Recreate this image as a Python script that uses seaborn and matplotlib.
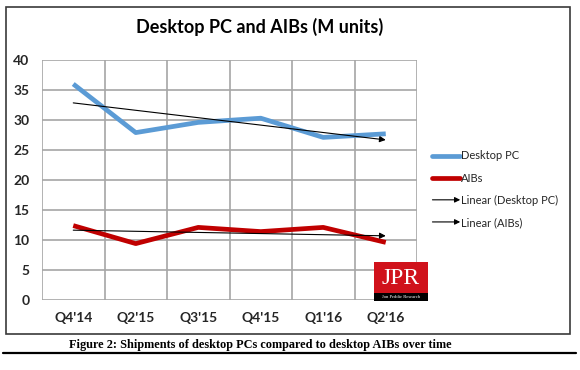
import numpy as np
import pandas as pd
import matplotlib
matplotlib.use("Agg")
import matplotlib.pyplot as plt
import seaborn as sns
from matplotlib.lines import Line2D
from matplotlib.patches import Rectangle, FancyArrowPatch
from matplotlib.legend_handler import HandlerBase

# data
quarters = ["Q4'14", "Q2'15", "Q3'15", "Q4'15", "Q1'16", "Q2'16"]
desktop_pc = [36.0, 27.9, 29.6, 30.3, 27.1, 27.7]
aibs = [12.4, 9.4, 12.1, 11.4, 12.1, 9.6]
y_ticks = [0, 5, 10, 15, 20, 25, 30, 35, 40]

blue = "#5B9BD5"
red = "#C00000"

sns.set_theme(style="white")
plt.rcParams["font.family"] = ["Lato", "DejaVu Sans"]

pos = np.arange(len(quarters))
df = pd.DataFrame({"pos": pos, "Desktop PC": desktop_pc, "AIBs": aibs})

fig = plt.figure(figsize=(5.8, 3.7), dpi=100)
ax = fig.add_axes([42 / 580, 1 - 300 / 370, 375 / 580, 240 / 370])

sns.lineplot(data=df, x="pos", y="Desktop PC", ax=ax, color=blue, linewidth=3.4,
             solid_capstyle="butt")
sns.lineplot(data=df, x="pos", y="AIBs", ax=ax, color=red, linewidth=3.4,
             solid_capstyle="butt")

# linear trendlines with arrow heads
for vals in (desktop_pc, aibs):
    k, b = np.polyfit(pos, vals, 1)
    ax.annotate("", xy=(pos[-1], k * pos[-1] + b), xytext=(pos[0], k * pos[0] + b),
                arrowprops=dict(arrowstyle="-|>", color="black", lw=0.8,
                                mutation_scale=9, shrinkA=0, shrinkB=0))

ax.set_xlim(-0.5, len(quarters) - 0.5)
ax.set_ylim(0, 40)
ax.set_yticks(y_ticks)
ax.set_xticks(pos)
ax.set_xticklabels(quarters)
ax.set_xticks(np.arange(-0.5, len(quarters), 1), minor=True)
ax.grid(False)
ax.grid(axis="y", which="major", color="#a6a6a6", lw=1.2)
ax.grid(axis="x", which="minor", color="#a6a6a6", lw=1.2)
for s in ax.spines.values():
    s.set_visible(False)
ax.tick_params(axis="both", which="both", length=0)
ax.tick_params(axis="y", pad=9, labelsize=10)
ax.tick_params(axis="x", pad=9, labelsize=10)
for lab in ax.get_xticklabels() + ax.get_yticklabels():
    lab.set_fontweight("bold")
    lab.set_color("#262626")
ax.set_xlabel("")
ax.set_ylabel("")

fig.text(259.5 / 580, 1 - 27 / 370, "Desktop PC and AIBs (M units)", ha="center",
         va="center", fontsize=13, fontweight="bold", color="black")


class ArrowHandler(HandlerBase):
    def create_artists(self, legend, orig_handle, xdescent, ydescent, width,
                       height, fontsize, trans):
        y = height / 2 - ydescent
        arr = FancyArrowPatch((-xdescent, y), (width - xdescent, y),
                              arrowstyle="-|>", mutation_scale=8, color="black",
                              lw=0.8, shrinkA=0, shrinkB=0, transform=trans)
        return [arr]


h_pc = Line2D([], [], color=blue, lw=3.4)
h_aib = Line2D([], [], color=red, lw=3.4)
h_t1 = Line2D([], [])
h_t2 = Line2D([], [])
fig.legend([h_pc, h_aib, h_t1, h_t2],
           ["Desktop PC", "AIBs", "Linear (Desktop PC)", "Linear (AIBs)"],
           handler_map={h_t1: ArrowHandler(), h_t2: ArrowHandler()},
           loc="upper left", bbox_to_anchor=(428 / 580, 1 - 146 / 370),
           frameon=False, fontsize=8, handlelength=2.5, handletextpad=0.1,
           labelspacing=1.0, borderaxespad=0)

# JPR logo
fig.patches.append(Rectangle((374 / 580, 1 - 293 / 370), 54 / 580, 31 / 370,
                             transform=fig.transFigure, facecolor="#d0121b",
                             edgecolor="none", zorder=5))
fig.patches.append(Rectangle((374 / 580, 1 - 301 / 370), 54 / 580, 8 / 370,
                             transform=fig.transFigure, facecolor="black",
                             edgecolor="none", zorder=5))
fig.text(401 / 580, 1 - 278 / 370, "JPR", ha="center", va="center", color="white",
         fontsize=17, family="Liberation Serif", zorder=6)
fig.text(401 / 580, 1 - 297.5 / 370, "Jon Peddie Research", ha="center",
         va="center", color="white", fontsize=3.3, family="Liberation Serif",
         zorder=6)

# chart frame, caption and rule
fig.patches.append(Rectangle((5.5 / 580, 1 - 334 / 370), 564.5 / 580, 327 / 370,
                             transform=fig.transFigure, facecolor="none",
                             edgecolor="#3a3a3a", lw=1.2, zorder=1))
fig.text(260 / 580, 1 - 345 / 370,
         "Figure 2: Shipments of desktop PCs compared to desktop AIBs over time",
         ha="center", va="center", fontsize=8.8, fontweight="bold",
         family="Liberation Serif", color="black")
fig.add_artist(Line2D([3 / 580, 576 / 580], [1 - 353 / 370, 1 - 353 / 370],
                      transform=fig.transFigure, color="black", lw=1.6))

fig.savefig("out.png", dpi=100)
